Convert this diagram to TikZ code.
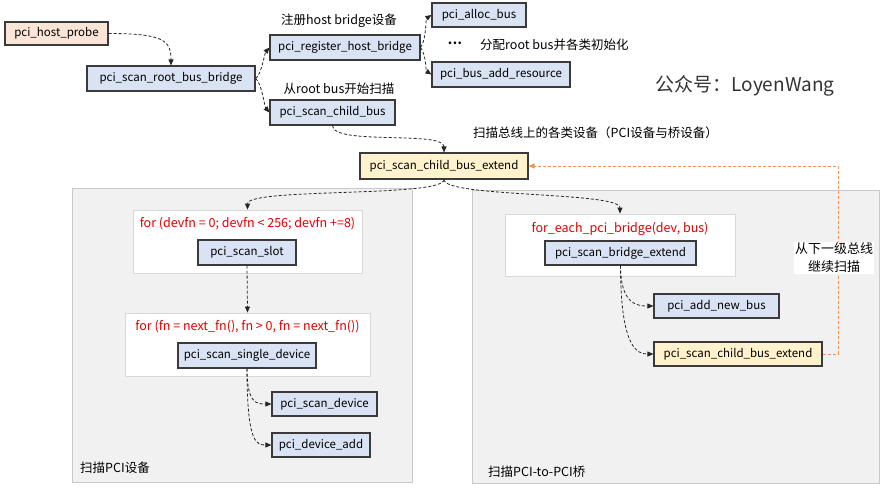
\documentclass[tikz,border=0pt]{standalone}
\usepackage{fontspec}
\setmainfont{Noto Sans CJK SC}
\usetikzlibrary{arrows.meta}
\definecolor{nblue}{HTML}{DAE3F3}
\definecolor{npeach}{HTML}{FBE5D6}
\definecolor{nyellow}{HTML}{FFF2CC}
\definecolor{nborder}{HTML}{3A3A3A}
\definecolor{panelfill}{HTML}{F1F1F1}
\definecolor{panelline}{HTML}{C8C8C8}
\definecolor{redtxt}{HTML}{E00000}
\definecolor{orangeline}{HTML}{F29552}
\definecolor{wline}{HTML}{D9D9D9}
\begin{document}
\begin{tikzpicture}[x=1pt,y=-1pt,
  font=\fontsize{11.5}{13}\selectfont,
  fn/.style={draw=nborder, line width=1.1pt, fill=nblue, inner sep=0pt, minimum height=25pt, text=black},
  peach/.style={fn, fill=npeach},
  yel/.style={fn, fill=nyellow},
  panel/.style={draw=panelline, line width=0.8pt, fill=panelfill, inner sep=0pt},
  wbox/.style={draw=wline, line width=0.8pt, fill=white, inner sep=0pt},
  conn/.style={draw=black!85, line width=0.8pt, dash pattern=on 3pt off 2pt, -{Triangle[length=6pt,width=5pt]}},
  oconn/.style={draw=orangeline, line width=0.8pt, dash pattern=on 3pt off 2pt, -{Triangle[length=6pt,width=5pt]}},
  lbl/.style={inner sep=0pt, text=black, font=\fontsize{12.5}{14}\selectfont},
  redlbl/.style={inner sep=0pt, text=redtxt, font=\fontsize{12.5}{14}\selectfont}
]
\useasboundingbox (0,0) rectangle (885,491);
\fill[white] (0,0) rectangle (885,491);

% panels
\node[panel, minimum width=340pt, minimum height=294pt] (lp) at (242,335) {};
\node[panel, minimum width=407pt, minimum height=293pt] (rp) at (675.5,336.5) {};
\node[wbox, minimum width=229pt, minimum height=63pt] (box1) at (247.5,241.5) {};
\node[wbox, minimum width=245pt, minimum height=63pt] (box2) at (247.5,344.5) {};
\node[wbox, minimum width=230pt, minimum height=62pt] (rbox) at (620,245) {};

% top nodes
\node[peach, minimum width=103pt, minimum height=23pt] (probe) at (56.5,33.5) {pci\_host\_probe};
\node[fn, minimum width=168pt] (rootbb) at (171,78.5) {pci\_scan\_root\_bus\_bridge};
\node[fn, minimum width=150pt] (reghb) at (345,47.5) {pci\_register\_host\_bridge};
\node[fn, minimum width=125pt] (childbus) at (332.5,112.5) {pci\_scan\_child\_bus};
\node[fn, minimum width=94pt, minimum height=24pt] (alloc) at (479,15) {pci\_alloc\_bus};
\node[fn, minimum width=138pt] (addres) at (501,74.5) {pci\_bus\_add\_resource};
\node[yel, minimum width=168pt, minimum height=26pt] (ext1) at (444,166) {pci\_scan\_child\_bus\_extend};

% left panel nodes
\node[redlbl] (for1) at (247.5,224) {for (devfn = 0; devfn < 256; devfn +=8)};
\node[fn, minimum width=98pt] (slot) at (247,252.5) {pci\_scan\_slot};
\node[redlbl] (for2) at (247.5,327) {for (fn = next\_fn(), fn > 0, fn = next\_fn())};
\node[fn, minimum width=138pt] (single) at (247,355.5) {pci\_scan\_single\_device};
\node[fn, minimum width=105pt, minimum height=24pt] (scandev) at (324.5,404) {pci\_scan\_device};
\node[fn, minimum width=98pt, minimum height=24pt] (devadd) at (321,445) {pci\_device\_add};
\node[lbl, anchor=west] (lpt) at (80,468) {扫描PCI设备};

% right panel nodes
\node[redlbl] (for3) at (620,229) {for\_each\_pci\_bridge(dev, bus)};
\node[fn, minimum width=151pt, minimum height=24pt] (bridgeext) at (620.5,253) {pci\_scan\_bridge\_extend};
\node[fn, minimum width=125pt, minimum height=24pt] (addnew) at (716.5,306) {pci\_add\_new\_bus};
\node[yel, minimum width=168pt, minimum height=24pt] (ext2) at (738,354) {pci\_scan\_child\_bus\_extend};
\node[lbl, anchor=west] (rpt) at (488,472) {扫描PCI-to-PCI桥};

% annotations
\node[lbl] (t1) at (339,21) {注册host bridge设备};
\node[lbl] (t2) at (339,89) {从root bus开始扫描};
\node[lbl] (dots) at (455,44) {\raisebox{0.35ex}{\bfseries.\kern0.5pt.\kern0.5pt.}};
\node[lbl, anchor=west] (t3) at (480,45) {分配root bus并各类初始化};
\node[lbl, text=black!80, font=\fontsize{19}{22}\selectfont] (wm) at (745,86) {公众号：LoyenWang};
\node[lbl, anchor=west] (t4) at (473,133) {扫描总线上的各类设备（PCI设备与桥设备）};

% connectors
\draw[conn] (probe.east) .. controls +(55,0) and +(0,-25) .. (rootbb.north);
\draw[conn] (rootbb.east) .. controls +(6,-4) and +(-5,6) .. (reghb.west);
\draw[conn] (rootbb.east) .. controls +(6,4) and +(-5,-6) .. (childbus.west);
\draw[conn] (reghb.east) .. controls +(6,-8) and +(-6,4) .. (alloc.west);
\draw[conn] (reghb.east) .. controls +(6,8) and +(-6,-4) .. (addres.west);
\draw[conn] (childbus.south) .. controls +(0,20) and +(0,-22) .. (ext1.north);
\draw[conn] (ext1.south) .. controls +(0,18) and +(0,-22) .. (box1.north);
\draw[conn] (ext1.south) .. controls +(0,18) and +(0,-22) .. (rbox.north);
\draw[conn] (slot.south) -- (box2.north);
\draw[conn] (single.south) .. controls +(0,35) and +(-15,0) .. (scandev.west);
\draw[conn] (single.south) .. controls +(0,75) and +(-15,0) .. (devadd.west);
\draw[conn] (bridgeext.south) .. controls +(0,40) and +(-15,0) .. (addnew.west);
\draw[conn] (bridgeext.south) .. controls +(0,85) and +(-15,0) .. (ext2.west);

\coordinate (oc) at (838,354);
\draw[oconn] (ext2.east) -- (oc) |- (ext1.east);
\node[fill=white, inner sep=1pt, align=center, text=black, font=\fontsize{13}{18}\selectfont] (back) at (834,257.5) {从下一级总线\\继续扫描};
\end{tikzpicture}
\end{document}
